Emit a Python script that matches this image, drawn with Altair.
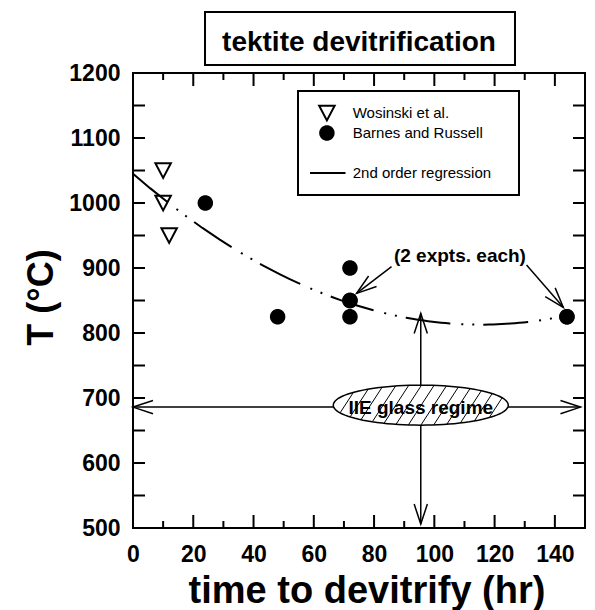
import altair as alt
import numpy as np
import pandas as pd

# ---------------- data ----------------
wos_time = [10, 10, 12]
wos_temp = [1050, 1000, 950]
br_time = [24, 48, 72, 72, 72, 72, 144, 144]
br_temp = [1000, 825, 900, 850, 850, 825, 825, 825]

BLANK = "\u2800" * 14
legend_labels = ["Wosinski et al.", "Barnes and Russell", BLANK, "2nd order regression"]

x_ticks = [0, 20, 40, 60, 80, 100, 120, 140]
x_minor = [10, 30, 50, 70, 90, 110, 130]
y_ticks = [500, 600, 700, 800, 900, 1000, 1100, 1200]
y_all = [550, 600, 650, 700, 750, 800, 850, 900, 950, 1000, 1050, 1100, 1150]

arrow_x1 = [0, 95.5, 85.8, 130.6]
arrow_y1 = [686, 506, 902, 904.6]
arrow_x2 = [148.5, 95.5, 74.2, 142.8]
arrow_y2 = [686, 830, 861, 839.5]

head_x = [0, 148.5, 95.5, 95.5, 74.2, 142.8]
head_y = [686, 686, 830, 506, 861, 839.5]
head_angle = [180, 0, 270, 90, 143, 49]

note_text = ["(2 expts. each)", "IIE glass regime"]
note_x = [108.5, 95.5]
note_y = [918, 685]

regime_x = [95.5]
regime_y = [689]

title_text = "tektite devitrification"

# ---------------- styling helpers ----------------
FONT = "Liberation Sans"
W, H = 452, 455


def poly_path(rx, ry, n=48):
    pts = []
    for i in range(n):
        a = 2 * np.pi * i / n
        pts.append(f"{rx*np.cos(a):.4f} {ry*np.sin(a):.4f}")
    return "M " + " L ".join(pts) + " Z"


TRI = "M -1 -0.95 L 1 -0.95 L 0 0.95 Z"
CIRC = poly_path(0.87, 0.87, 36)
LINE = "M -2.4 0 L 2.4 0"
CHEV = "M -1 -0.33 L 0 0 L -1 0.33"

ERY = 20 / 87.5
ELLIPSE = poly_path(1.0, ERY, 96)


def hatch_path(ry, s=0.65, step=0.145):
    segs = []
    A = s * s + 1 / (ry * ry)
    for c in np.arange(-1.3, 1.31, step):
        B = -2 * c * s
        C = c * c - 1
        disc = B * B - 4 * A * C
        if disc <= 0:
            continue
        r = np.sqrt(disc)
        ya = (-B - r) / (2 * A)
        yb = (-B + r) / (2 * A)
        segs.append(f"M {c - s*ya:.4f} {ya:.4f} L {c - s*yb:.4f} {yb:.4f}")
    return " ".join(segs)


HATCH = hatch_path(ERY)

pts_df = pd.DataFrame({
    "time": wos_time + br_time,
    "temp": wos_temp + br_temp,
    "series": [legend_labels[0]] * len(wos_time) + [legend_labels[1]] * len(br_time),
})
arr_df = pd.DataFrame({"x1": arrow_x1, "y1": arrow_y1, "x2": arrow_x2, "y2": arrow_y2})
head_df = pd.DataFrame({"x": head_x, "y": head_y, "angle": head_angle})
note_df = pd.DataFrame({"x": note_x, "y": note_y, "text": note_text})
reg_df = pd.DataFrame({"x": regime_x, "y": regime_y})
one_df = pd.DataFrame({"k": [0]})

xs = alt.Scale(domain=[0, 150], nice=False, zero=False)
ys = alt.Scale(domain=[500, 1200], nice=False, zero=False)

x_label_axis = alt.Axis(orient="bottom", values=x_ticks, ticks=False, tickSize=0, domain=False,
                        grid=False, labelFont=FONT, labelFontSize=23, labelFontWeight="bold",
                        labelColor="black", labelPadding=15, labelFlush=False, labelOverlap=False,
                        format="d",
                        title="time to devitrify (hr)", titleFont=FONT, titleFontSize=38,
                        titleFontWeight="bold", titleColor="black", titleX=233.5, titleY=74,
                        titleAlign="center", titleBaseline="alphabetic")
y_label_axis = alt.Axis(orient="left", values=y_ticks, ticks=False, tickSize=0, domain=False,
                        grid=False, labelFont=FONT, labelFontSize=23, labelFontWeight="bold",
                        labelColor="black", labelPadding=13, labelFlush=False, labelOverlap=False,
                        format="d",
                        title="T (°C)", titleFont=FONT, titleFontSize=36, titleFontWeight="bold",
                        titleColor="black", titleX=-81, titleY=224, titleAngle=270,
                        titleAlign="center", titleBaseline="alphabetic")

leg = alt.Legend(title=None, orient="none", legendX=165, legendY=18, padding=12,
                 strokeColor="black", fillColor="white", labelFont=FONT, labelFontSize=15,
                 labelColor="black", labelOffset=16.8, symbolOffset=7.9, symbolSize=240,
                 symbolStrokeWidth=2, clipHeight=20, rowPadding=0, symbolOpacity=1,
                 labelLimit=400)

points = alt.Chart(pts_df).mark_point(size=240, strokeWidth=2, opacity=1).encode(
    x=alt.X("time:Q", scale=xs, axis=x_label_axis),
    y=alt.Y("temp:Q", scale=ys, axis=y_label_axis),
    shape=alt.Shape("series:N", scale=alt.Scale(domain=legend_labels, range=[TRI, CIRC, CIRC, LINE]), legend=leg),
    fill=alt.Fill("series:N", scale=alt.Scale(domain=legend_labels, range=["white", "black", "transparent", "transparent"]), legend=leg),
    stroke=alt.Stroke("series:N", scale=alt.Scale(domain=legend_labels, range=["black", "black", "transparent", "black"]), legend=leg),
)

regression = alt.Chart(pts_df).transform_regression(
    "time", "temp", method="poly", order=2, extent=[0, 144]
).mark_line(color="black", strokeWidth=2, strokeDash=[45, 11, 2, 9, 2, 9], strokeCap="butt").encode(
    x=alt.X("time:Q", scale=xs, axis=None),
    y=alt.Y("temp:Q", scale=ys, axis=None),
)


# inward tick marks on all four sides, placed through the scales
def xtick_layer(values, y0, y1):
    return alt.Chart(pd.DataFrame({"v": values})).mark_rule(color="black", strokeWidth=2).encode(
        x=alt.X("v:Q", scale=xs, axis=None), y=alt.value(y0), y2=alt.value(y1))


def ytick_layer(values, x0, x1):
    return alt.Chart(pd.DataFrame({"v": values})).mark_rule(color="black", strokeWidth=2).encode(
        y=alt.Y("v:Q", scale=ys, axis=None), x=alt.value(x0), x2=alt.value(x1))


ticks = [
    xtick_layer(x_ticks, H, H - 13), xtick_layer(x_minor, H, H - 7),
    xtick_layer(x_ticks, 0, 13), xtick_layer(x_minor, 0, 7),
    ytick_layer(y_all, 0, 12), ytick_layer(y_all, W, W - 12),
]

arrows = alt.Chart(arr_df).mark_rule(color="black", strokeWidth=1.5).encode(
    x=alt.X("x1:Q", scale=xs, axis=None),
    y=alt.Y("y1:Q", scale=ys, axis=None),
    x2="x2:Q",
    y2="y2:Q",
)

heads = alt.Chart(head_df).mark_point(shape=CHEV, size=1600, filled=False, stroke="black",
                                      strokeWidth=1.5, opacity=1).encode(
    x=alt.X("x:Q", scale=xs, axis=None),
    y=alt.Y("y:Q", scale=ys, axis=None),
    angle=alt.Angle("angle:Q", scale=None),
)

ellipse = alt.Chart(reg_df).mark_point(shape=ELLIPSE, size=175 * 175, filled=True, fill="white",
                                       stroke="black", strokeWidth=1.5, opacity=1).encode(
    x=alt.X("x:Q", scale=xs, axis=None),
    y=alt.Y("y:Q", scale=ys, axis=None),
)

hatch = alt.Chart(reg_df).mark_point(shape=HATCH, size=175 * 175, filled=False, stroke="black",
                                     strokeWidth=1, opacity=1).encode(
    x=alt.X("x:Q", scale=xs, axis=None),
    y=alt.Y("y:Q", scale=ys, axis=None),
)

notes = alt.Chart(note_df).mark_text(font=FONT, fontSize=19, fontWeight="bold", color="black",
                                     align="center", baseline="middle").encode(
    x=alt.X("x:Q", scale=xs, axis=None),
    y=alt.Y("y:Q", scale=ys, axis=None),
    text="text:N",
)

title_box = alt.Chart(one_df).mark_rect(fill="white", stroke="black", strokeWidth=2).encode(
    x=alt.value(72), x2=alt.value(382), y=alt.value(-61), y2=alt.value(-8)
)
title_mark = alt.Chart(one_df).mark_text(text=title_text, font=FONT, fontSize=28, fontWeight="bold",
                                         color="black", align="center", baseline="alphabetic").encode(
    x=alt.value(W / 2), y=alt.value(-22)
)

chart = alt.layer(
    points, title_box, title_mark, *ticks, regression, arrows, ellipse, hatch, notes, heads
).resolve_axis(x="independent", y="independent").properties(
    width=W, height=H,
    autosize=alt.AutoSizeParams(type="none"),
    padding={"left": 133, "top": 73, "right": 10, "bottom": 82},
    background="white",
).configure_view(stroke="black", strokeWidth=2).configure_legend(strokeWidth=2)

chart.save("out.html", embed_options={"renderer": "svg", "actions": False})
